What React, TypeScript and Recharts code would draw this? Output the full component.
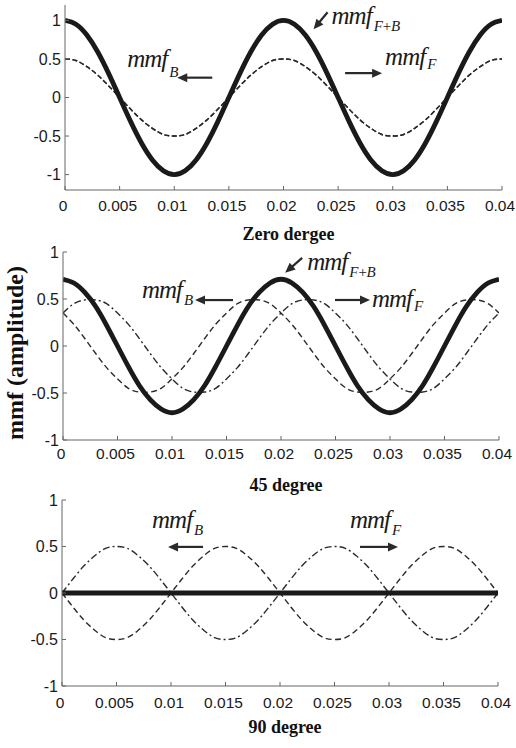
import React from 'react';
import { LineChart, Line, XAxis, YAxis, ReferenceDot } from 'recharts';

// time axis (s)
const times = [0, 0.001, 0.002, 0.003, 0.004, 0.005, 0.006, 0.007, 0.008, 0.009, 0.01, 0.011, 0.012, 0.013, 0.014, 0.015, 0.016, 0.017, 0.018, 0.019, 0.02, 0.021, 0.022, 0.023, 0.024, 0.025, 0.026, 0.027, 0.028, 0.029, 0.03, 0.031, 0.032, 0.033, 0.034, 0.035, 0.036, 0.037, 0.038, 0.039, 0.04];
const xTicks = [0, 0.005, 0.01, 0.015, 0.02, 0.025, 0.03, 0.035, 0.04];
const yTicks = [-1, -0.5, 0, 0.5, 1];

// Zero degree
const zeroFB = [1, 0.95, 0.81, 0.59, 0.31, 0, -0.31, -0.59, -0.81, -0.95, -1, -0.95, -0.81, -0.59, -0.31, 0, 0.31, 0.59, 0.81, 0.95, 1, 0.95, 0.81, 0.59, 0.31, 0, -0.31, -0.59, -0.81, -0.95, -1, -0.95, -0.81, -0.59, -0.31, 0, 0.31, 0.59, 0.81, 0.95, 1];
const zeroF = [0.5, 0.48, 0.4, 0.29, 0.15, 0, -0.15, -0.29, -0.4, -0.48, -0.5, -0.48, -0.4, -0.29, -0.15, 0, 0.15, 0.29, 0.4, 0.48, 0.5, 0.48, 0.4, 0.29, 0.15, 0, -0.15, -0.29, -0.4, -0.48, -0.5, -0.48, -0.4, -0.29, -0.15, 0, 0.15, 0.29, 0.4, 0.48, 0.5];
const zeroB = [0.5, 0.48, 0.4, 0.29, 0.15, 0, -0.15, -0.29, -0.4, -0.48, -0.5, -0.48, -0.4, -0.29, -0.15, 0, 0.15, 0.29, 0.4, 0.48, 0.5, 0.48, 0.4, 0.29, 0.15, 0, -0.15, -0.29, -0.4, -0.48, -0.5, -0.48, -0.4, -0.29, -0.15, 0, 0.15, 0.29, 0.4, 0.48, 0.5];

// 45 degree
const fortyFiveFB = [0.71, 0.67, 0.57, 0.42, 0.22, 0, -0.22, -0.42, -0.57, -0.67, -0.71, -0.67, -0.57, -0.42, -0.22, 0, 0.22, 0.42, 0.57, 0.67, 0.71, 0.67, 0.57, 0.42, 0.22, 0, -0.22, -0.42, -0.57, -0.67, -0.71, -0.67, -0.57, -0.42, -0.22, 0, 0.22, 0.42, 0.57, 0.67, 0.71];
const fortyFiveB = [0.35, 0.23, 0.08, -0.08, -0.23, -0.35, -0.45, -0.49, -0.49, -0.45, -0.35, -0.23, -0.08, 0.08, 0.23, 0.35, 0.45, 0.49, 0.49, 0.45, 0.35, 0.23, 0.08, -0.08, -0.23, -0.35, -0.45, -0.49, -0.49, -0.45, -0.35, -0.23, -0.08, 0.08, 0.23, 0.35, 0.45, 0.49, 0.49, 0.45, 0.35];
const fortyFiveF = [0.35, 0.45, 0.49, 0.49, 0.45, 0.35, 0.23, 0.08, -0.08, -0.23, -0.35, -0.45, -0.49, -0.49, -0.45, -0.35, -0.23, -0.08, 0.08, 0.23, 0.35, 0.45, 0.49, 0.49, 0.45, 0.35, 0.23, 0.08, -0.08, -0.23, -0.35, -0.45, -0.49, -0.49, -0.45, -0.35, -0.23, -0.08, 0.08, 0.23, 0.35];

// 90 degree
const ninetyFB = [0, 0, 0, 0, 0, 0, 0, 0, 0, 0, 0, 0, 0, 0, 0, 0, 0, 0, 0, 0, 0, 0, 0, 0, 0, 0, 0, 0, 0, 0, 0, 0, 0, 0, 0, 0, 0, 0, 0, 0, 0];
const ninetyF = [0, 0.15, 0.29, 0.4, 0.48, 0.5, 0.48, 0.4, 0.29, 0.15, 0, -0.15, -0.29, -0.4, -0.48, -0.5, -0.48, -0.4, -0.29, -0.15, 0, 0.15, 0.29, 0.4, 0.48, 0.5, 0.48, 0.4, 0.29, 0.15, 0, -0.15, -0.29, -0.4, -0.48, -0.5, -0.48, -0.4, -0.29, -0.15, 0];
const ninetyB = [0, -0.15, -0.29, -0.4, -0.48, -0.5, -0.48, -0.4, -0.29, -0.15, 0, 0.15, 0.29, 0.4, 0.48, 0.5, 0.48, 0.4, 0.29, 0.15, 0, -0.15, -0.29, -0.4, -0.48, -0.5, -0.48, -0.4, -0.29, -0.15, 0, 0.15, 0.29, 0.4, 0.48, 0.5, 0.48, 0.4, 0.29, 0.15, 0];

const build = (fb: number[], f: number[], b: number[]) =>
  times.map((t, i) => ({ t, fb: fb[i], f: f[i], b: b[i] }));

const INK = '#1a1a1a';
const THIN = '#2b2b2b';
const BOX = '#666';
const SERIF = "'Liberation Serif', 'Times New Roman', serif";
const SANS = "'Liberation Sans', Arial, sans-serif";

type Anno = { t: number; v: number; sub: string; subDy: number; arrow: [number, number, number, number] };

const panels = [
  {
    key: 'zero',
    rows: build(zeroFB, zeroF, zeroB),
    domain: [-1.2, 1.2],
    box: { left: 65, top: 5, right: 502, bottom: 190 },
    title: 'Zero dergee',
    titleBaseline: 240,
    tickGap: 10,
    fDash: '5 2.5',
    bDash: '5 2.5',
    fbWidth: 4.8,
    yLabel: false,
    annos: [
      { t: 0.0057, v: 0.4, sub: 'B', subDy: 10, arrow: [85, 11, 50, 11] },
      { t: 0.0293, v: 0.42, sub: 'F', subDy: 4, arrow: [-40, 8, -3, 8] },
      { t: 0.0244, v: 0.95, sub: 'F+B', subDy: 7, arrow: [-4, -12, -18, 5] },
    ] as Anno[],
  },
  {
    key: 'fortyfive',
    rows: build(fortyFiveFB, fortyFiveF, fortyFiveB),
    domain: [-1, 1],
    box: { left: 63, top: 252, right: 499, bottom: 440 },
    title: '45 degree',
    titleBaseline: 491,
    tickGap: 8,
    fDash: '7 3 2 3',
    bDash: '6 3.5',
    fbWidth: 4.8,
    yLabel: true,
    annos: [
      { t: 0.0224, v: 0.81, sub: 'F+B', subDy: 7, arrow: [-5, -12, -22, 3] },
      { t: 0.00725, v: 0.51, sub: 'B', subDy: 7, arrow: [91, 2, 53, 2] },
      { t: 0.02835, v: 0.415, sub: 'F', subDy: 4, arrow: [-37, -7, -2, -7] },
    ] as Anno[],
  },
  {
    key: 'ninety',
    rows: build(ninetyFB, ninetyF, ninetyB),
    domain: [-1, 1],
    box: { left: 62, top: 500, right: 498, bottom: 686 },
    title: '90 degree',
    titleBaseline: 733,
    tickGap: 11,
    fDash: '7 3 2 3',
    bDash: '6 3.5',
    fbWidth: 5,
    yLabel: false,
    annos: [
      { t: 0.00826, v: 0.7, sub: 'B', subDy: 7, arrow: [51, 19, 16, 19] },
      { t: 0.02642, v: 0.7, sub: 'F', subDy: 7, arrow: [10, 19, 48, 19] },
    ] as Anno[],
  },
];

function Annotation(props: any) {
  const { viewBox, a } = props;
  if (!viewBox) return null;
  const x = viewBox.x + (viewBox.width || 0) / 2;
  const y = viewBox.y + (viewBox.height || 0) / 2;
  const [ax1, ay1, ax2, ay2] = a.arrow;
  const x1 = x + ax1, y1 = y + ay1, x2 = x + ax2, y2 = y + ay2;
  const ang = Math.atan2(y2 - y1, x2 - x1);
  const L = 10, W = 4.5;
  const bx = x2 - L * Math.cos(ang);
  const by = y2 - L * Math.sin(ang);
  const pts = `${x2},${y2} ${bx - W * Math.sin(ang)},${by + W * Math.cos(ang)} ${bx + W * Math.sin(ang)},${by - W * Math.cos(ang)}`;
  return (
    <g>
      <text x={x} y={y} fontFamily={SERIF} fontStyle="italic" fontSize={25} fill={INK} letterSpacing={-1}>
        mmf
        <tspan dx={2} dy={a.subDy} fontSize={15}>{a.sub}</tspan>
      </text>
      <line x1={x1} y1={y1} x2={bx + Math.cos(ang)} y2={by + Math.sin(ang)} stroke="#2a2a2a" strokeWidth={2.2} />
      <polygon points={pts} fill="#2a2a2a" />
    </g>
  );
}

function XTick(props: any) {
  const { x, y, payload } = props;
  return (
    <text x={x - 2} y={y} dy="0.71em" textAnchor="middle" fill="#1a1a1a" fontSize={15.5} fontFamily={SANS}>
      {String(payload.value)}
    </text>
  );
}

function Panel({ cfg }: { cfg: any }) {
  const { rows, domain, box, title, titleBaseline, tickGap, annos, yLabel } = cfg;
  const xAxisH = 60;
  const tickStyle = { fill: '#1a1a1a', fontSize: 16, fontFamily: SANS };
  return (
    <div style={{ position: 'absolute', left: 0, top: 0 }}>
      <LineChart
        width={516}
        height={748}
        data={rows}
        margin={{ top: box.top, right: 516 - box.right, bottom: 748 - box.bottom - xAxisH, left: 0 }}
      >
        <XAxis
          dataKey="t"
          type="number"
          domain={[0, 0.04]}
          ticks={xTicks}
          interval={0}
          height={xAxisH}
          tickSize={-4}
          tickMargin={4 + tickGap}
          axisLine={{ stroke: BOX }}
          tickLine={{ stroke: BOX }}
          tick={<XTick />}
          allowDataOverflow
          label={{
            content: (p: any) => (
              <text
                x={p.viewBox.x + p.viewBox.width / 2 + 5}
                y={titleBaseline}
                textAnchor="middle"
                fontFamily={SERIF}
                fontWeight="bold"
                fontSize={18}
                fill="#111"
              >
                {title}
              </text>
            ),
          }}
        />
        <XAxis
          xAxisId="top"
          orientation="top"
          dataKey="t"
          type="number"
          domain={[0, 0.04]}
          ticks={xTicks}
          interval={0}
          height={0}
          tickSize={-4}
          axisLine={{ stroke: BOX }}
          tickLine={{ stroke: BOX }}
          tickFormatter={() => ''}
          allowDataOverflow
        />
        <YAxis
          type="number"
          domain={domain}
          ticks={yTicks}
          interval={0}
          width={box.left}
          tickSize={-4}
          tickMargin={8}
          axisLine={{ stroke: BOX }}
          tickLine={{ stroke: BOX }}
          tick={tickStyle}
          allowDataOverflow
          label={
            yLabel
              ? {
                  content: (p: any) => (
                    <text
                      transform={`translate(23, ${p.viewBox.y + p.viewBox.height / 2 + 7}) rotate(-90)`}
                      textAnchor="middle"
                      fontFamily={SERIF}
                      fontWeight="bold"
                      fontSize={24}
                      fill="#111"
                    >
                      mmf (amplitude)
                    </text>
                  ),
                }
              : undefined
          }
        />
        <YAxis
          yAxisId="right"
          orientation="right"
          type="number"
          domain={domain}
          ticks={yTicks}
          interval={0}
          width={0}
          tickSize={-4}
          axisLine={{ stroke: BOX }}
          tickLine={{ stroke: BOX }}
          tickFormatter={() => ''}
          allowDataOverflow
        />
        <Line dataKey="b" type="natural" stroke={THIN} strokeWidth={1.4} strokeDasharray={cfg.bDash} dot={false} isAnimationActive={false} />
        <Line dataKey="f" type="natural" stroke={THIN} strokeWidth={1.4} strokeDasharray={cfg.fDash} dot={false} isAnimationActive={false} />
        <Line dataKey="fb" type="natural" stroke={INK} strokeWidth={cfg.fbWidth} dot={false} isAnimationActive={false} />
        {annos.map((a: Anno, i: number) => (
          <ReferenceDot
            key={i}
            x={a.t}
            y={a.v}
            r={0}
            fill="none"
            stroke="none"
            ifOverflow="visible"
            label={(p: any) => <Annotation {...p} a={a} />}
          />
        ))}
      </LineChart>
    </div>
  );
}

export default function App() {
  return (
    <div style={{ position: 'absolute', left: 0, top: 0, width: 516, height: 748, background: '#fff' }}>
      {panels.map((cfg) => (
        <Panel key={cfg.key} cfg={cfg} />
      ))}
    </div>
  );
}
